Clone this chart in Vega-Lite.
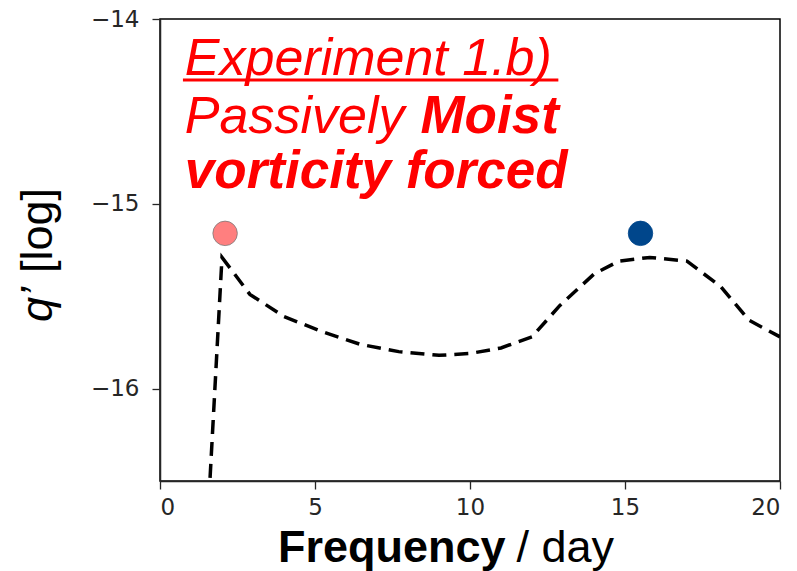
{
  "$schema": "https://vega.github.io/schema/vega-lite/v6.json",
  "width": 620,
  "height": 462,
  "autosize": {"type": "none"},
  "padding": {"left": 160, "top": 19, "right": 17, "bottom": 90},
  "background": "white",
  "config": {
    "view": {"stroke": "black", "strokeWidth": 1.5},
    "axis": {
      "labelFont": "DejaVu Sans",
      "labelFontSize": 23,
      "labelColor": "#262626",
      "tickColor": "#262626",
      "domainColor": "#262626",
      "domainWidth": 1.5,
      "tickWidth": 1.3,
      "tickSize": 8,
      "grid": false,
      "title": null,
      "format": "d"
    }
  },
  "datasets": {
    "curve": [
      {"freq": 1.5, "val": -16.84},
      {"freq": 2.0, "val": -15.29},
      {"freq": 2.9, "val": -15.49},
      {"freq": 4.0, "val": -15.61},
      {"freq": 5.2, "val": -15.69},
      {"freq": 6.45, "val": -15.76},
      {"freq": 7.7, "val": -15.8},
      {"freq": 9.0, "val": -15.82},
      {"freq": 10.0, "val": -15.81},
      {"freq": 11.0, "val": -15.78},
      {"freq": 12.0, "val": -15.72},
      {"freq": 12.9, "val": -15.55},
      {"freq": 14.0, "val": -15.38},
      {"freq": 14.8, "val": -15.31},
      {"freq": 15.8, "val": -15.29},
      {"freq": 17.0, "val": -15.31},
      {"freq": 18.1, "val": -15.45},
      {"freq": 19.0, "val": -15.63},
      {"freq": 20.0, "val": -15.72}
    ],
    "dots": [
      {"freq": 2.1, "val": -15.16, "kind": "low"},
      {"freq": 15.5, "val": -15.16, "kind": "high"}
    ],
    "redtext": [
      {"freq": 0.8, "val": -14.303, "label": "Experiment 1.b)", "w": "normal"},
      {"freq": 0.8, "val": -14.617, "label": "Passively", "w": "normal"},
      {"freq": 8.4, "val": -14.617, "label": "Moist", "w": "bold"},
      {"freq": 0.8, "val": -14.915, "label": "vorticity forced", "w": "bold"}
    ],
    "underline": [
      {"freq": 0.74, "freq2": 12.85, "val": -14.33}
    ],
    "xtitle": [
      {"freq": 11.15, "val": -16.94, "label": "Frequency", "part": "a"},
      {"freq": 11.5, "val": -16.94, "label": "/ day", "part": "b"}
    ],
    "ytitle": [
      {"freq": -3.95, "val": -15.64, "label": "q’", "part": "a"},
      {"freq": -3.95, "val": -15.375, "label": "[log]", "part": "b"}
    ]
  },
  "layer": [
    {
      "data": {"name": "curve"},
      "mark": {"type": "line", "color": "black", "strokeWidth": 3.5, "strokeDash": [14, 8], "clip": true},
      "encoding": {
        "x": {"field": "freq", "type": "quantitative", "scale": {"domain": [0, 20], "nice": false},
              "axis": {"values": [0, 5, 10, 15, 20], "labelPadding": 7}},
        "y": {"field": "val", "type": "quantitative", "scale": {"domain": [-16.5, -14], "nice": false, "zero": false},
              "axis": {"values": [-16, -15, -14], "labelPadding": 13}}
      }
    },
    {
      "data": {"name": "dots"},
      "mark": {"type": "point", "shape": "circle", "filled": true, "size": 600, "opacity": 1, "strokeWidth": 0.8},
      "encoding": {
        "x": {"field": "freq", "type": "quantitative"},
        "y": {"field": "val", "type": "quantitative"},
        "fill": {"field": "kind", "type": "nominal", "scale": {"domain": ["low", "high"], "range": ["#FF7F7F", "#00468B"]}, "legend": null},
        "stroke": {"field": "kind", "type": "nominal", "scale": {"domain": ["low", "high"], "range": ["#7a7a7a", "#00468B"]}, "legend": null}
      }
    },
    {
      "data": {"name": "redtext"},
      "transform": [{"filter": "datum.w === 'normal'"}],
      "mark": {"type": "text", "align": "left", "baseline": "alphabetic", "font": "Liberation Sans", "fontSize": 52, "fontStyle": "italic", "fontWeight": "normal", "color": "#FF0000", "clip": false},
      "encoding": {
        "x": {"field": "freq", "type": "quantitative"},
        "y": {"field": "val", "type": "quantitative"},
        "text": {"field": "label"}
      }
    },
    {
      "data": {"name": "redtext"},
      "transform": [{"filter": "datum.w === 'bold'"}],
      "mark": {"type": "text", "align": "left", "baseline": "alphabetic", "font": "Liberation Sans", "fontSize": 53, "fontStyle": "italic", "fontWeight": "bold", "color": "#FF0000", "clip": false},
      "encoding": {
        "x": {"field": "freq", "type": "quantitative"},
        "y": {"field": "val", "type": "quantitative"},
        "text": {"field": "label"}
      }
    },
    {
      "data": {"name": "underline"},
      "mark": {"type": "rule", "color": "#FF0000", "strokeWidth": 3},
      "encoding": {
        "x": {"field": "freq", "type": "quantitative"},
        "x2": {"field": "freq2"},
        "y": {"field": "val", "type": "quantitative"}
      }
    },
    {
      "data": {"name": "xtitle"},
      "transform": [{"filter": "datum.part === 'a'"}],
      "mark": {"type": "text", "align": "right", "baseline": "alphabetic", "font": "Liberation Sans", "fontSize": 45, "fontWeight": "bold", "color": "black", "clip": false},
      "encoding": {
        "x": {"field": "freq", "type": "quantitative"},
        "y": {"field": "val", "type": "quantitative"},
        "text": {"field": "label"}
      }
    },
    {
      "data": {"name": "xtitle"},
      "transform": [{"filter": "datum.part === 'b'"}],
      "mark": {"type": "text", "align": "left", "baseline": "alphabetic", "font": "Liberation Sans", "fontSize": 45, "color": "black", "clip": false},
      "encoding": {
        "x": {"field": "freq", "type": "quantitative"},
        "y": {"field": "val", "type": "quantitative"},
        "text": {"field": "label"}
      }
    },
    {
      "data": {"name": "ytitle"},
      "transform": [{"filter": "datum.part === 'a'"}],
      "mark": {"type": "text", "align": "left", "baseline": "middle", "angle": 270, "font": "Liberation Sans", "fontSize": 45, "fontStyle": "italic", "color": "black", "clip": false},
      "encoding": {
        "x": {"field": "freq", "type": "quantitative"},
        "y": {"field": "val", "type": "quantitative"},
        "text": {"field": "label"}
      }
    },
    {
      "data": {"name": "ytitle"},
      "transform": [{"filter": "datum.part === 'b'"}],
      "mark": {"type": "text", "align": "left", "baseline": "middle", "angle": 270, "font": "Liberation Sans", "fontSize": 45, "color": "black", "clip": false},
      "encoding": {
        "x": {"field": "freq", "type": "quantitative"},
        "y": {"field": "val", "type": "quantitative"},
        "text": {"field": "label"}
      }
    }
  ]
}
